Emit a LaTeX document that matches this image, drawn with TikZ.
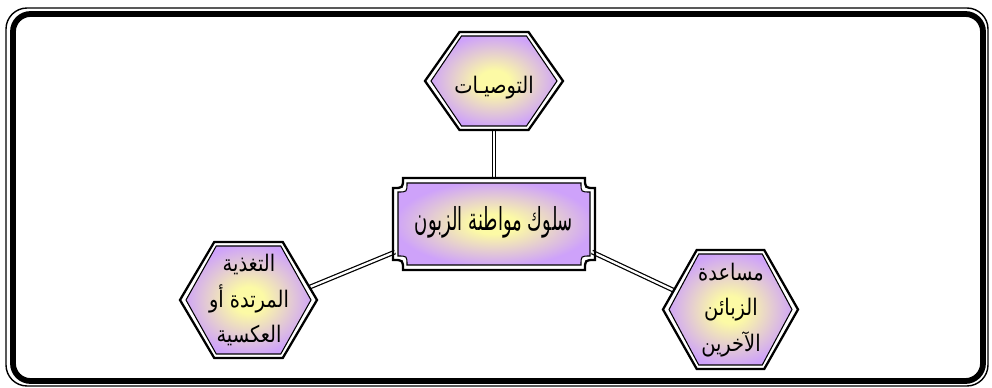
\documentclass[tikz,border=0pt]{standalone}
\usepackage{fontspec}
\newfontfamily\arabicfont[Script=Arabic]{DejaVu Sans}
\TeXXeTstate=1
\usepackage{graphicx}
\usepackage{xcolor}
\usepackage{tikz}
\usetikzlibrary{calc, backgrounds}

\definecolor{lilac}{RGB}{206,162,250}
\definecolor{lemon}{RGB}{252,250,165}
\pgfdeclareradialshading{glow}{\pgfpoint{0bp}{0bp}}{%
  color(0bp)=(lemon); color(6bp)=(lemon); color(26bp)=(lilac); color(50bp)=(lilac)}

\tikzset{
  rim/.style={draw=black, line width=1.3pt},
  inner/.style={draw=black, line width=0.6pt, shading=glow},
  link/.style={draw=black, line width=0.7pt, double=white, double distance=1.3pt},
  hextext/.style={align=center, font=\arabicfont\fontsize{13}{20}\selectfont, inner sep=0pt},
}

% condensed line of right-to-left text
\newcommand\rl[2][0.85]{\scalebox{#1}[1]{\beginR #2\endR}}

% hexagon: centre x, centre y, half width, half height
\newcommand\hexa[4]{%
  \draw[rim] ({#1-#3},#2) -- ({#1-#3/2},{#2-#4}) -- ({#1+#3/2},{#2-#4}) -- ({#1+#3},#2)
    -- ({#1+#3/2},{#2+#4}) -- ({#1-#3/2},{#2+#4}) -- cycle;
  \draw[inner] ({#1-#3+6},#2) -- ({#1-#3/2+2},{#2-#4+4}) -- ({#1+#3/2-2},{#2-#4+4}) -- ({#1+#3-6},#2)
    -- ({#1+#3/2-2},{#2+#4-4}) -- ({#1-#3/2+2},{#2+#4-4}) -- cycle;
}

\begin{document}
\begin{tikzpicture}[x=0.02cm, y=-0.02cm]
    \useasboundingbox (0,0) rectangle (992,388);
    % outer frame
    \draw[line width=0.8pt, rounded corners=12pt] (6,8) rectangle (988,386);
    \draw[line width=3.3pt, rounded corners=10pt] (13,14) rectangle (983,381);

    % centre plaque
    \draw[rim] (403,178) -- (585,178) .. controls (585,188) .. (595,188) -- (595,260)
      .. controls (585,260) .. (585,270) -- (403,270) .. controls (403,260) .. (393,260)
      -- (393,188) .. controls (403,188) .. (403,178) -- cycle;
    \draw[inner] (407,183) -- (581,183) .. controls (581,192) .. (590,192) -- (590,256)
      .. controls (581,256) .. (581,265) -- (407,265) .. controls (407,256) .. (398,256)
      -- (398,192) .. controls (407,192) .. (407,183) -- cycle;

    \hexa{494}{81}{69}{49}
    \hexa{248.5}{300}{68.5}{58}
    \hexa{730.5}{309.5}{67.5}{59.5}

    \node[font=\arabicfont\fontsize{18}{20}\selectfont, inner sep=0pt] (citizenship) at (494,222)
      {\rl[0.57]{سلوك مواطنة الزبون}};
    \node[hextext] (advice) at (494,88) {\rl{التوصيـات}};
    \node[hextext] (feedback) at (249,300)
      {\rl{التغذية}\\ \rl{المرتدة أو}\\ \rl{العكسية}};
    \node[hextext] (helping) at (731,310)
      {\rl{مساعدة}\\ \rl{الزبائن}\\ \rl{الآخرين}};

    \begin{scope}[on background layer]
      \draw[link] ($(citizenship)+(0,-44)$) -- ($(advice)+(0,42)$);
      \draw[link] ($(citizenship)+(-99,30)$) -- ($(feedback)+(61,-13)$);
      \draw[link] ($(citizenship)+(98,30)$) -- ($(helping)+(-58,-20)$);
    \end{scope}
\end{tikzpicture}
\end{document}
